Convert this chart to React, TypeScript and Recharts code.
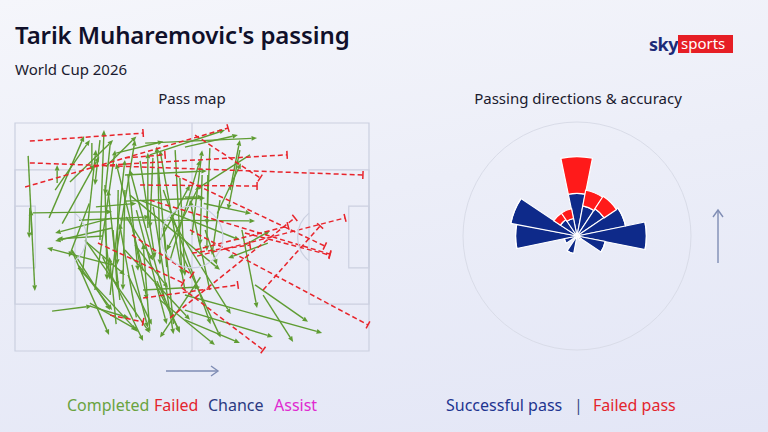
import React from 'react'
import {
  ScatterChart,
  XAxis,
  YAxis,
  ReferenceArea,
  ReferenceLine,
  ReferenceDot,
  RadialBarChart,
  RadialBar,
  PolarAngleAxis,
  PolarRadiusAxis,
  PolarGrid,
} from 'recharts'

// pass start/end on a 105 x 68 pitch, y measured from the top touchline
type Pass = [number, number, number, number]

const completedPasses: Pass[] = [
  [3.9, 9.8, 5.9, 50.1], [4.4, 25.3, 4.2, 34.3], [5.0, 33.4, 4.7, 25.9], [5.3, 26.8, 28.8, 26.5],
  [11.0, 56.1, 22.8, 54.6], [10.1, 28.3, 20.5, 3.9], [11.9, 20.0, 22.2, 5.1], [16.3, 17.6, 29.1, 5.1],
  [22.8, 6.0, 22.8, 14.3], [28.8, 28.3, 11.9, 32.8], [28.8, 31.3, 11.9, 35.2], [28.8, 42.3, 9.5, 37.3],
  [16.9, 38.2, 27.9, 63.2], [19.0, 42.6, 28.8, 55.8], [22.2, 54.6, 33.8, 58.1], [20.8, 35.2, 32.6, 45.3],
  [16.9, 37.9, 28.2, 55.8], [18.7, 43.2, 36.5, 62.3], [20.8, 34.9, 40.0, 62.6], [22.2, 53.7, 36.2, 61.7],
  [38.0, 49.8, 54.9, 48.9], [41.5, 47.7, 48.9, 62.3], [26.7, 31.9, 28.2, 46.8], [29.1, 31.9, 30.3, 48.9],
  [35.0, 31.9, 39.2, 52.8], [71.2, 48.3, 86.9, 59.3], [73.6, 51.3, 82.5, 65.3], [50.4, 55.8, 76.5, 63.8],
  [50.4, 58.7, 66.7, 65.6], [67.3, 31.9, 71.8, 55.2], [56.4, 31.9, 59.9, 42.3], [75.0, 35.8, 63.2, 40.3],
  [50.4, 51.3, 91.1, 62.6], [38.6, 6.0, 71.8, 4.5], [50.4, 7.2, 66.1, 3.6], [32.6, 15.5, 56.9, 14.3],
  [32.6, 23.3, 56.4, 22.4], [31.1, 28.9, 71.2, 29.2], [42.1, 47.1, 48.9, 62.6], [60.8, 23.0, 58.4, 39.4],
  [55.5, 15.5, 54.9, 36.4], [68.2, 36.4, 75.6, 32.2], [50.4, 22.1, 55.8, 22.1], [57.8, 7.5, 56.9, 30.4],
  [40.0, 9.5, 62.3, 2.1], [33.5, 15.5, 36.5, 44.1], [37.1, 11.3, 41.5, 40.3], [40.9, 10.4, 40.0, 31.3],
  [42.4, 13.4, 43.0, 42.3], [47.5, 8.1, 49.5, 45.3], [48.9, 16.4, 50.4, 45.6], [39.4, 31.3, 39.4, 8.9],
  [52.5, 33.4, 55.5, 8.1], [57.2, 15.5, 56.9, 38.2], [33.5, 45.3, 40.6, 60.2], [34.7, 42.3, 39.4, 61.1],
  [35.6, 36.4, 45.4, 49.2], [26.1, 33.7, 12.5, 34.6], [12.5, 17.9, 12.5, 12.5], [23.7, 49.8, 29.7, 8.1],
  [28.2, 51.3, 32.6, 11.0], [31.1, 52.8, 27.6, 20.0], [25.2, 34.9, 26.4, 2.1], [29.7, 40.9, 35.6, 5.1],
  [30.6, 20.0, 30.3, 42.3], [32.6, 20.0, 32.0, 49.8], [26.7, 18.5, 27.3, 46.8], [44.5, 52.8, 34.1, 14.0],
  [50.4, 49.8, 43.0, 8.1], [46.0, 40.9, 54.9, 11.0], [43.0, 34.9, 51.9, 18.5], [57.8, 49.8, 51.9, 23.0],
  [37.1, 23.0, 66.7, 34.9], [34.1, 21.5, 60.8, 43.8], [32.6, 37.9, 51.9, 58.7], [43.0, 52.8, 59.3, 66.2],
  [66.7, 8.1, 63.2, 25.9], [63.8, 20.0, 66.7, 5.1], [69.7, 9.5, 53.4, 20.0], [25.2, 5.1, 23.7, 18.5],
  [28.2, 6.6, 26.7, 21.5], [33.0, 28.0, 41.0, 41.0], [36.0, 26.0, 45.0, 60.0], [41.0, 25.0, 47.0, 63.0],
  [44.0, 20.0, 58.0, 60.0], [46.0, 28.0, 64.0, 57.0], [38.0, 44.0, 30.0, 12.0], [45.0, 43.0, 42.0, 7.0],
  [49.0, 38.0, 61.0, 64.0], [55.0, 46.0, 43.0, 64.0], [24.0, 25.0, 36.0, 24.0], [19.0, 29.0, 40.0, 28.0],
  [60.0, 27.0, 67.0, 12.0], [30.0, 60.0, 28.0, 40.0], [27.0, 13.0, 36.0, 4.0], [20.0, 45.0, 24.0, 8.0],
  [14.0, 30.0, 25.0, 10.0], [36.0, 58.0, 31.0, 30.0], [40.0, 62.0, 38.0, 36.0], [47.0, 60.0, 44.0, 30.0],
  [30.0, 9.0, 44.0, 5.5], [56.0, 24.0, 70.0, 27.0], [54.0, 20.0, 45.0, 38.0], [26.0, 40.0, 38.0, 65.0],
  [22.0, 24.0, 16.0, 40.0],
]

const failedPasses: Pass[] = [
  [4.4, 5.4, 38.0, 3.0], [3.0, 19.1, 63.2, 1.5], [4.4, 11.9, 103.2, 15.5], [28.2, 12.5, 80.7, 9.5],
  [37.1, 18.5, 71.8, 18.8], [53.4, 3.6, 72.7, 16.4], [40.0, 23.0, 93.4, 39.1], [47.5, 15.5, 91.9, 36.7],
  [51.9, 31.9, 104.7, 60.2], [54.0, 39.7, 97.9, 28.3], [53.4, 37.9, 81.0, 30.7], [46.0, 58.1, 83.0, 28.3],
  [73.6, 49.8, 90.5, 30.7], [38.0, 52.2, 66.1, 48.3], [28.2, 57.3, 38.0, 59.3], [24.6, 35.8, 49.8, 47.7],
  [49.5, 49.2, 73.6, 67.7], [34.7, 33.4, 52.5, 45.3], [32.6, 10.4, 44.5, 9.5], [68.2, 32.8, 93.4, 39.4],
  [52.5, 38.8, 69.7, 36.4],
]

// rose: 16 directions, clockwise from "forward"
const directions = ['0', '22.5', '45', '67.5', '90', '112.5', '135', '157.5', '180', '202.5', '225', '247.5', '270', '292.5', '315', '337.5']
const successfulByDir = [8.6, 6.2, 6.6, 10, 14, 5.8, 1, 0, 0, 3.6, 0, 2.6, 12.4, 13.6, 4, 3.6]
const failedByDir = [7.4, 3.2, 3, 0, 0, 0, 0, 0, 0, 0, 0, 0, 0, 0, 1.6, 2]

const roseData = directions.map((dir, i) => ({
  dir,
  successful: successfulByDir[i],
  failed: failedByDir[i],
}))

const GREEN = '#5f9c33'
const RED = '#e8242b'
const NAVY = '#0e2a8a'
const ROSE_RED = '#ff1a1a'
const LINE = '#cbd0e0'
const PX_PER_M = 354 / 105
const BOX_DEPTH = 17.8
const SPOT = 12

const arrowShape = (p: any) => {
  const { x1, y1, x2, y2 } = p
  const dx = x2 - x1
  const dy = y2 - y1
  const len = Math.hypot(dx, dy) || 1
  const ux = dx / len
  const uy = dy / len
  const bx = x2 - ux * 5.5
  const by = y2 - uy * 5.5
  const pts = `${x2},${y2} ${bx - uy * 2.4},${by + ux * 2.4} ${bx + uy * 2.4},${by - ux * 2.4}`
  return (
    <g>
      <line x1={x1} y1={y1} x2={bx} y2={by} stroke={GREEN} strokeWidth={1.4} />
      <polygon points={pts} fill={GREEN} />
    </g>
  )
}

const failedShape = (p: any) => {
  const { x1, y1, x2, y2 } = p
  const len = Math.hypot(x2 - x1, y2 - y1) || 1
  const nx = -(y2 - y1) / len
  const ny = (x2 - x1) / len
  return (
    <g>
      <line x1={x1} y1={y1} x2={x2} y2={y2} stroke={RED} strokeWidth={1.5} strokeDasharray="5 3" />
      <line x1={x2 - nx * 4} y1={y2 - ny * 4} x2={x2 + nx * 4} y2={y2 + ny * 4} stroke={RED} strokeWidth={1.5} />
    </g>
  )
}

const dArc = (side: 'left' | 'right') => (p: any) => {
  const r = 9.15 * PX_PER_M
  const dx = (BOX_DEPTH - SPOT) * PX_PER_M
  const dy = Math.sqrt(r * r - dx * dx)
  const sx = side === 'left' ? p.cx + dx : p.cx - dx
  return (
    <path
      d={`M${sx},${p.cy - dy} A${r},${r} 0 0 ${side === 'left' ? 1 : 0} ${sx},${p.cy + dy}`}
      fill="none"
      stroke={LINE}
      strokeWidth={1.2}
    />
  )
}

function PassMap() {
  return (
    <ScatterChart width={366} height={240} margin={{ top: 6, right: 6, bottom: 6, left: 6 }}>
      <XAxis type="number" dataKey="x" domain={[0, 105]} allowDataOverflow hide />
      <YAxis type="number" dataKey="y" domain={[0, 68]} allowDataOverflow reversed hide />
      <ReferenceArea x1={0} x2={105} y1={0} y2={68} fill="none" stroke={LINE} strokeWidth={1.2} />
      <ReferenceArea x1={0} x2={BOX_DEPTH} y1={14} y2={54} fill="none" stroke={LINE} strokeWidth={1.2} />
      <ReferenceArea x1={105 - BOX_DEPTH} x2={105} y1={14} y2={54} fill="none" stroke={LINE} strokeWidth={1.2} />
      <ReferenceArea x1={0} x2={6} y1={24.8} y2={43.2} fill="none" stroke={LINE} strokeWidth={1.2} />
      <ReferenceArea x1={99} x2={105} y1={24.8} y2={43.2} fill="none" stroke={LINE} strokeWidth={1.2} />
      <ReferenceLine x={52.5} stroke={LINE} strokeWidth={1.2} />
      <ReferenceDot x={52.5} y={34} r={9.15 * PX_PER_M} fill="none" stroke={LINE} strokeWidth={1.2} />
      <ReferenceDot x={SPOT} y={34} shape={dArc('left')} />
      <ReferenceDot x={105 - SPOT} y={34} shape={dArc('right')} />
      {completedPasses.map((p, i) => (
        <ReferenceLine
          key={`c${i}`}
          segment={[{ x: p[0], y: p[1] }, { x: p[2], y: p[3] }]}
          shape={arrowShape}
        />
      ))}
      {failedPasses.map((p, i) => (
        <ReferenceLine
          key={`f${i}`}
          segment={[{ x: p[0], y: p[1] }, { x: p[2], y: p[3] }]}
          shape={failedShape}
        />
      ))}
    </ScatterChart>
  )
}

function PassRose() {
  return (
    <RadialBarChart
      width={240}
      height={240}
      data={roseData}
      cx={120}
      cy={120}
      innerRadius={0}
      outerRadius={114}
      startAngle={78.75}
      endAngle={-281.25}
      layout="centric"
      barCategoryGap={0}
      margin={{ top: 0, right: 0, bottom: 0, left: 0 }}
    >
      <PolarGrid gridType="circle" polarRadius={[114]} polarAngles={[]} radialLines={false} stroke="#d9dce8" />
      <PolarAngleAxis type="category" dataKey="dir" tick={false} axisLine={false} tickLine={false} />
      <PolarRadiusAxis type="number" domain={[0, 22.8]} tick={false} axisLine={false} tickLine={false} />
      <RadialBar dataKey="successful" stackId="a" fill={NAVY} stroke="#fff" strokeWidth={1.2} isAnimationActive={false} />
      <RadialBar dataKey="failed" stackId="a" fill={ROSE_RED} stroke="#fff" strokeWidth={1.2} isAnimationActive={false} />
    </RadialBarChart>
  )
}

export default function App() {
  const font = "'Noto Sans', 'Open Sans', sans-serif"
  return (
    <div
      style={{
        position: 'absolute',
        left: 0,
        top: 0,
        width: 768,
        height: 432,
        overflow: 'hidden',
        background: 'linear-gradient(170deg, #f5f6fb 0%, #eceef8 45%, #e3e6f6 100%)',
        fontFamily: font,
      }}
    >
      <div style={{ position: 'absolute', left: 9, top: 117 }}>
        <PassMap />
      </div>
      <div style={{ position: 'absolute', left: 457, top: 116 }}>
        <PassRose />
      </div>
      <svg width={768} height={432} style={{ position: 'absolute', left: 0, top: 0, pointerEvents: 'none' }}>
        <text x={15} y={44} fontSize={24} fontWeight={600} fill="#10102a" letterSpacing={-0.1}>
          Tarik Muharemovic's passing
        </text>
        <text x={15} y={75} fontSize={15} fill="#1a1a2e">World Cup 2026</text>
        <text x={192} y={104} fontSize={15} fill="#1a1a2e" textAnchor="middle">Pass map</text>
        <text x={578} y={104} fontSize={15} fill="#1a1a2e" textAnchor="middle">Passing directions &amp; accuracy</text>

        <text x={649} y={51} fontSize={18} fontWeight={700} fill="#1c2a78" letterSpacing={-0.5}>sky</text>
        <rect x={678} y={35} width={55} height={18} fill="#e61e25" />
        <text x={681} y={49} fontSize={15} fill="#fff">sports</text>

        <line x1={166} y1={371} x2={217} y2={371} stroke="#7f8db4" strokeWidth={1.4} />
        <path d="M211,366 L218,371 L211,376" fill="none" stroke="#7f8db4" strokeWidth={1.4} />
        <line x1={718} y1={263} x2={718} y2={211} stroke="#7f8db4" strokeWidth={1.4} />
        <path d="M713,217 L718,210 L723,217" fill="none" stroke="#7f8db4" strokeWidth={1.4} />

        <text x={67} y={411} fontSize={16} fill="#6aa340">Completed</text>
        <text x={154} y={411} fontSize={16} fill="#e3262e">Failed</text>
        <text x={208} y={411} fontSize={16} fill="#2b3a82">Chance</text>
        <text x={274} y={411} fontSize={16} fill="#e02ad0">Assist</text>
        <text x={446} y={411} fontSize={16} fill="#1e3590">Successful pass</text>
        <text x={574} y={411} fontSize={16} fill="#3a4a8a">|</text>
        <text x={593} y={411} fontSize={16} fill="#e3262e">Failed pass</text>
      </svg>
    </div>
  )
}
